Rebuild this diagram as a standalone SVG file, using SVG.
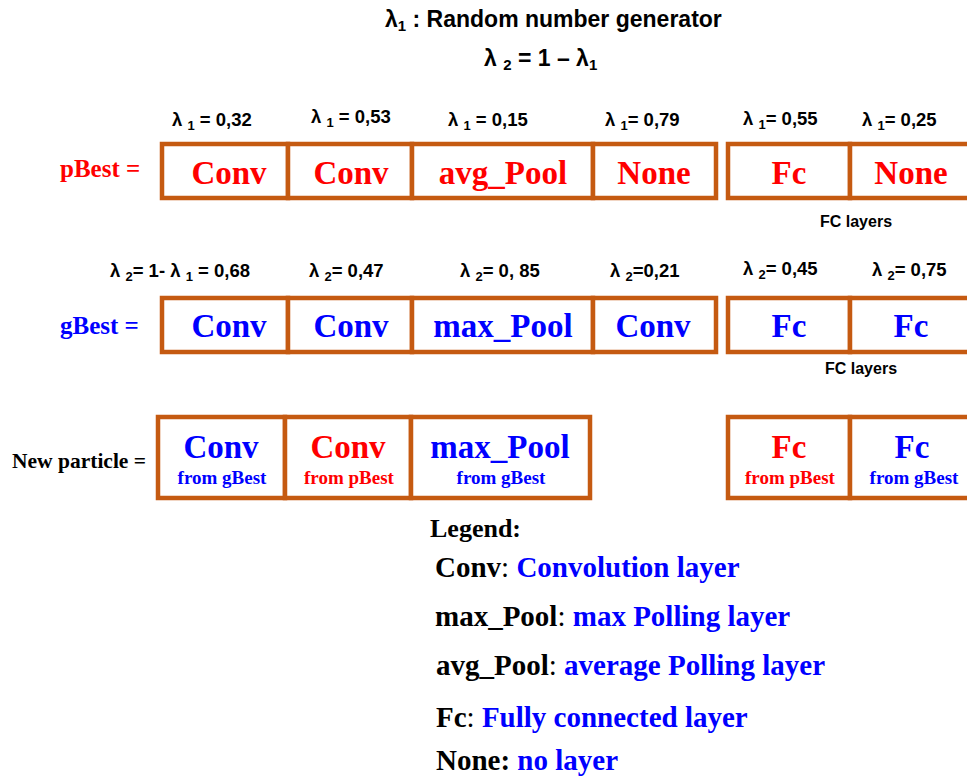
<svg xmlns="http://www.w3.org/2000/svg" width="967" height="778" viewBox="0 0 967 778">
<style>
.cell{fill:#fff;stroke:#C55A11;stroke-width:4.5}
.cal{font-family:"Liberation Sans",Arial,sans-serif;font-weight:bold;fill:#000}
.lam{font-size:18.5px}
.tm{font-family:"Liberation Serif","Times New Roman",serif;font-weight:bold}
.big{font-size:33px;text-anchor:middle}
.sm{font-size:19px;text-anchor:middle}
.r{fill:#FF0000}
.b{fill:#0000FF}
.k{fill:#000}
.lg{font-size:29px}
</style>
<rect width="967" height="778" fill="#fff"/>
<g id="title">
<text class="cal" x="385" y="27" font-size="23">λ<tspan font-size="15" dy="4">1</tspan><tspan dy="-4"> : Random number generator</tspan></text>
<text class="cal" x="484" y="66" font-size="23">λ <tspan font-size="15" dy="4">2</tspan><tspan dy="-4">  = 1 – λ</tspan><tspan font-size="15" dy="4">1</tspan></text>
</g>
<g id="pbest-row">
<text class="tm r" x="60" y="177" font-size="25">pBest =</text>
<g class="cal lam">
<text x="172" y="126">λ <tspan font-size="13" dy="4">1</tspan><tspan dy="-4"> = 0,32</tspan></text>
<text x="311" y="123">λ <tspan font-size="13" dy="4">1</tspan><tspan dy="-4"> = 0,53</tspan></text>
<text x="448" y="126">λ <tspan font-size="13" dy="4">1</tspan><tspan dy="-4"> = 0,15</tspan></text>
<text x="605" y="126">λ <tspan font-size="13" dy="4">1</tspan><tspan dy="-4">= 0,79</tspan></text>
<text x="743" y="125">λ <tspan font-size="13" dy="4">1</tspan><tspan dy="-4">= 0,55</tspan></text>
<text x="862" y="126">λ <tspan font-size="13" dy="4">1</tspan><tspan dy="-4">= 0,25</tspan></text>
</g>
<g id="p1"><rect class="cell" x="162" y="144" width="126" height="54"/><text class="tm big r" x="229" y="184">Conv</text></g>
<g id="p2"><rect class="cell" x="288" y="144" width="124" height="54"/><text class="tm big r" x="351" y="184">Conv</text></g>
<g id="p3"><rect class="cell" x="412" y="144" width="181" height="54"/><text class="tm big r" x="503" y="184">avg_Pool</text></g>
<g id="p4"><rect class="cell" x="593" y="144" width="123" height="54"/><text class="tm big r" x="654" y="184">None</text></g>
<g id="p5"><rect class="cell" x="728" y="144" width="122" height="54"/><text class="tm big r" x="789" y="184">Fc</text></g>
<g id="p6"><rect class="cell" x="850" y="144" width="130" height="54"/><text class="tm big r" x="911" y="184">None</text></g>
<text class="cal" x="820" y="227" font-size="16">FC layers</text>
</g>
<g id="gbest-row">
<text class="tm b" x="60" y="334" font-size="25">gBest =</text>
<g class="cal lam">
<text x="110" y="277">λ <tspan font-size="13" dy="4">2</tspan><tspan dy="-4">= 1- λ </tspan><tspan font-size="13" dy="4">1</tspan><tspan dy="-4"> = 0,68</tspan></text>
<text x="309" y="277">λ <tspan font-size="13" dy="4">2</tspan><tspan dy="-4">= 0,47</tspan></text>
<text x="460" y="277">λ <tspan font-size="13" dy="4">2</tspan><tspan dy="-4">= 0, 85</tspan></text>
<text x="610" y="277">λ <tspan font-size="13" dy="4">2</tspan><tspan dy="-4">=0,21</tspan></text>
<text x="743" y="275">λ <tspan font-size="13" dy="4">2</tspan><tspan dy="-4">= 0,45</tspan></text>
<text x="872" y="276">λ <tspan font-size="13" dy="4">2</tspan><tspan dy="-4">= 0,75</tspan></text>
</g>
<g id="g1"><rect class="cell" x="162" y="298" width="126" height="54"/><text class="tm big b" x="229" y="337">Conv</text></g>
<g id="g2"><rect class="cell" x="288" y="298" width="124" height="54"/><text class="tm big b" x="351" y="337">Conv</text></g>
<g id="g3"><rect class="cell" x="412" y="298" width="181" height="54"/><text class="tm big b" x="503" y="337">max_Pool</text></g>
<g id="g4"><rect class="cell" x="593" y="298" width="123" height="54"/><text class="tm big b" x="653" y="337">Conv</text></g>
<g id="g5"><rect class="cell" x="728" y="298" width="122" height="54"/><text class="tm big b" x="789" y="337">Fc</text></g>
<g id="g6"><rect class="cell" x="850" y="298" width="130" height="54"/><text class="tm big b" x="911" y="337">Fc</text></g>
<text class="cal" x="825" y="374" font-size="16">FC layers</text>
</g>
<g id="new-row">
<text class="tm k" x="12" y="468" font-size="21.5">New particle =</text>
<g id="n1"><rect class="cell" x="158" y="417" width="127" height="81"/><text class="tm big b" x="221" y="458">Conv</text><text class="tm sm b" x="222" y="484">from gBest</text></g>
<g id="n2"><rect class="cell" x="285" y="417" width="126" height="81"/><text class="tm big r" x="348" y="458">Conv</text><text class="tm sm r" x="349" y="484">from pBest</text></g>
<g id="n3"><rect class="cell" x="411" y="417" width="179" height="81"/><text class="tm big b" x="500" y="458">max_Pool</text><text class="tm sm b" x="501" y="484">from gBest</text></g>
<g id="n4"><rect class="cell" x="728" y="417" width="122" height="81"/><text class="tm big r" x="789" y="458">Fc</text><text class="tm sm r" x="790" y="484">from pBest</text></g>
<g id="n5"><rect class="cell" x="850" y="417" width="130" height="81"/><text class="tm big b" x="912" y="458">Fc</text><text class="tm sm b" x="914" y="484">from gBest</text></g>
</g>
<g id="legend" class="tm lg">
<text class="k" x="430" y="537" font-size="26">Legend:</text>
<text class="k" x="435" y="577">Conv<tspan font-weight="normal">: </tspan><tspan class="b">Convolution layer</tspan></text>
<text class="k" x="435" y="626">max_Pool<tspan font-weight="normal">: </tspan><tspan class="b">max Polling layer</tspan></text>
<text class="k" x="436" y="675">avg_Pool<tspan font-weight="normal">: </tspan><tspan class="b">average Polling layer</tspan></text>
<text class="k" x="436" y="727">Fc<tspan font-weight="normal">: </tspan><tspan class="b">Fully connected layer</tspan></text>
<text class="k" x="436" y="770">None: <tspan class="b">no layer</tspan></text>
</g>
</svg>
